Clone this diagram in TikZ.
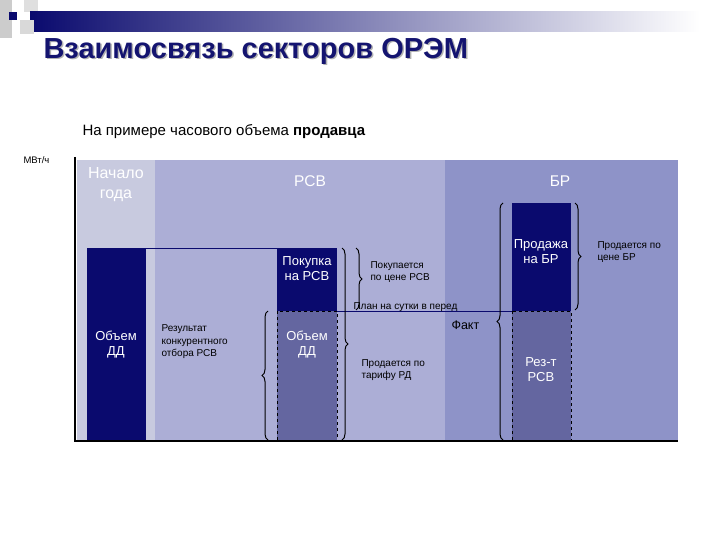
\documentclass[tikz,border=0pt]{standalone}
\usepackage{fontspec}
\setmainfont{Liberation Sans}
\usetikzlibrary{decorations.pathreplacing}
\definecolor{navy}{HTML}{0A0A6E}
\definecolor{bgA}{HTML}{C8CADF}
\definecolor{bgB}{HTML}{ACAED6}
\definecolor{bgC}{HTML}{8E93C8}
\definecolor{mid}{HTML}{6466A0}
\definecolor{titc}{HTML}{141470}
\begin{document}
\begin{tikzpicture}[x=1pt,y=-1pt,
  lbl/.style={font=\fontsize{13}{15}\selectfont, text=white, align=center},
  sm/.style={font=\fontsize{10}{12.5}\selectfont, text=black, align=left, anchor=west},
  dark/.style={fill=navy, draw=none},
  dashbox/.style={fill=mid, draw=black, dashed, line width=0.8pt},
  brc/.style={decorate, decoration={brace, amplitude=6pt}, line width=1pt}]
\useasboundingbox (0,0) rectangle (720,540);
\fill[white] (0,0) rectangle (720,540);
% top decoration
\fill[gray!40] (0,0) rectangle (12,38);
\fill[gray!25] (24,0) rectangle (38,12);
\shade[left color=navy, right color=white] (30,12) rectangle (700,32);
\fill[navy] (9,12) rectangle (17,20);
\fill[gray!30] (20,20) rectangle (34,34);
% title
\node[anchor=west, font=\bfseries\fontsize{29}{32}\selectfont, text=gray!60] (tsh) at (41.5,52.5) {Взаимосвязь секторов ОРЭМ};
\node[anchor=west, font=\bfseries\fontsize{29}{32}\selectfont, text=titc] (title) at (40,51) {Взаимосвязь секторов ОРЭМ};
\node[anchor=west, font=\fontsize{15}{17}\selectfont] (sub) at (79,132) {На примере часового объема \textbf{продавца}};
\node[anchor=west, font=\fontsize{9.5}{11}\selectfont] (unit) at (20,160) {МВт/ч};
% backgrounds
\fill[bgA] (77,160) rectangle (155,440);
\fill[bgB] (155,160) rectangle (445,440);
\fill[bgC] (445,160) rectangle (678,440);
% bars
\fill[dark] (87,248) rectangle (146,440);
\draw[navy, line width=0.8pt] (146,248) -- (277,248);
\fill[dark] (277,248) rectangle (337,311);
\draw[dashbox] (277,311) rectangle (337,440);
\draw[navy, line width=0.8pt] (337,311) -- (512,311);
\fill[dark] (512,203) rectangle (571,311);
\draw[dashbox] (512,311) rectangle (571,440);
% axes
\draw[line width=2.5pt] (75,157) -- (75,441) -- (678,441);
% texts
\node[lbl, font=\fontsize{16}{20}\selectfont] (ng) at (116,185) {Начало\\года};
\node[lbl, font=\fontsize{15.5}{18}\selectfont] (rsv) at (310,181) {РСВ};
\node[lbl, font=\fontsize{15.5}{18}\selectfont] (br) at (560,181) {БР};
\node[lbl] (odd1) at (116,345) {Объем\\ДД};
\node[lbl] (pok) at (307,269) {Покупка\\на РСВ};
\node[lbl] (odd2) at (307,345) {Объем\\ДД};
\node[lbl] (prod) at (541,252) {Продажа\\на БР};
\node[lbl] (rez) at (541,370) {Рез-т\\РСВ};
\node[sm] (res) at (158,342) {Результат\\конкурентного\\отбора РСВ};
\node[sm] (pokc) at (367,272) {Покупается\\по цене РСВ};
\node[sm] (plan) at (350,307) {План на сутки в перед};
\node[sm, font=\fontsize{12.5}{14}\selectfont] (fakt) at (448,325) {Факт};
\node[sm] (tar) at (358,370) {Продается по\\тарифу РД};
\node[sm] (cbr) at (594,252) {Продается по\\цене БР};
% braces
\draw[brc] (268,440) -- (268,311);
\draw[brc] (342,248) -- (342,440);
\draw[brc] (356,248) -- (356,310);
\draw[brc] (503,440) -- (503,203);
\draw[brc] (575,203) -- (575,310);
\end{tikzpicture}
\end{document}
